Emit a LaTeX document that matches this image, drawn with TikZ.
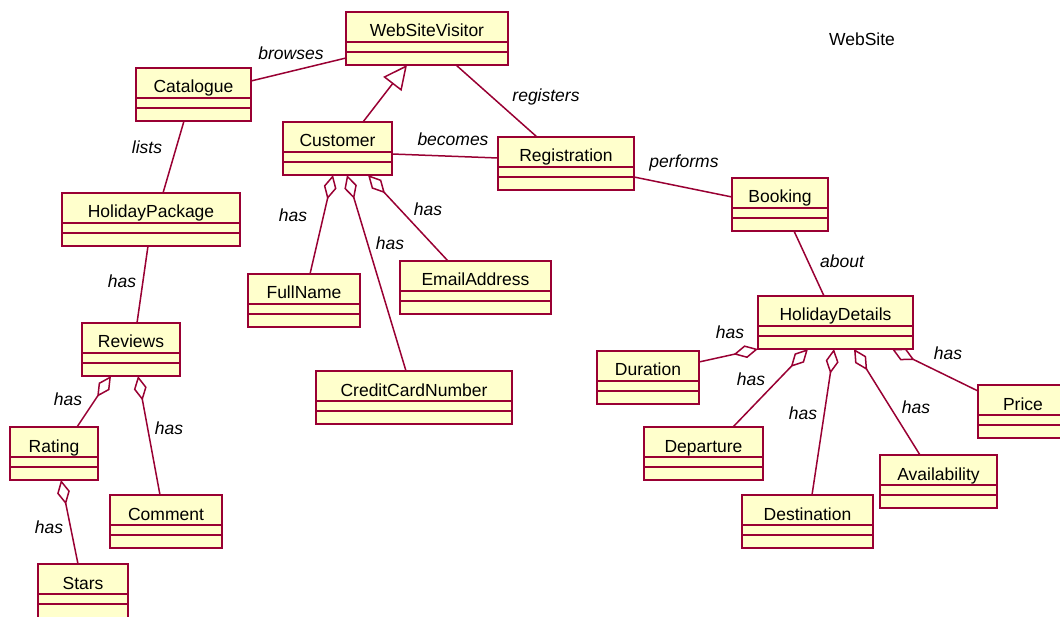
\documentclass[tikz,border=0pt]{standalone}
\usepackage{fontspec}
\setmainfont{Liberation Sans}
\usetikzlibrary{arrows.meta}

\definecolor{umlborder}{RGB}{153,0,51}
\definecolor{umlfill}{RGB}{255,255,204}

\tikzset{
  classbox/.style={draw=umlborder, fill=umlfill, line width=1.8pt,
    rectangle, inner sep=0pt, outer sep=0pt, minimum height=53pt, anchor=north west},
  classname/.style={inner sep=0pt, font=\fontsize{17.5}{20}\selectfont, anchor=base},
  classline/.style={draw=umlborder, line width=1.8pt},
  assoc/.style={draw=umlborder, line width=1.5pt},
  aggr/.style={assoc, {Diamond[open, fill=white, length=25pt, width=13pt]}-},
  generalization/.style={assoc, -{Triangle[open, fill=white, length=24pt, width=23pt]}},
  rolelabel/.style={inner sep=0pt, font=\fontsize{17.5}{20}\selectfont\itshape},
  titlelabel/.style={inner sep=0pt, font=\fontsize{17.5}{20}\selectfont},
}

% class box with name, attribute and operation compartments
\newcommand\umlclass[6][]{%
  \node[classbox, minimum width=#5pt, #1] (#2) at (#3,#4) {};
  \node[classname] (#2-name) at ([yshift=-25pt]#2.north) {#6};
  \draw[classline] ([yshift=-30pt]#2.north west) -- ([yshift=-30pt]#2.north east);
  \draw[classline] ([yshift=-40pt]#2.north west) -- ([yshift=-40pt]#2.north east);
}

\begin{document}
\begin{tikzpicture}[x=1pt, y=-1pt]
  \useasboundingbox (0,0) rectangle (1060,617);
  \fill[white] (0,0) rectangle (1060,617);

  \node[titlelabel] (title) at (862,39) {WebSite};

  % classes
  \umlclass{wsv}{346}{12}{162}{WebSiteVisitor}
  \umlclass{cat}{136}{68}{115}{Catalogue}
  \umlclass{cust}{283}{122}{109}{Customer}
  \umlclass{reg}{498}{137}{136}{Registration}
  \umlclass{book}{732}{178}{96}{Booking}
  \umlclass{hp}{62}{193}{178}{HolidayPackage}
  \umlclass{fn}{248}{274}{112}{FullName}
  \umlclass{email}{400}{261}{151}{EmailAddress}
  \umlclass{ccn}{316}{371}{196}{CreditCardNumber}
  \umlclass{rev}{82}{323}{98}{Reviews}
  \umlclass{hd}{758}{296}{155}{HolidayDetails}
  \umlclass{dur}{597}{351}{102}{Duration}
  \umlclass{price}{978}{385}{90}{Price}
  \umlclass{dep}{644}{427}{119}{Departure}
  \umlclass{avail}{880}{455}{117}{Availability}
  \umlclass{dest}{742}{495}{131}{Destination}
  \umlclass{rating}{10}{427}{88}{Rating}
  \umlclass{comment}{110}{495}{112}{Comment}
  \umlclass[minimum height=60pt]{stars}{38}{564}{90}{Stars}

  % associations
  \draw[assoc] ([yshift=-13pt]cat.north east) -- ([yshift=-46pt]wsv.north west);
  \draw[generalization] ([xshift=80pt]cust.north west) -- ([xshift=61pt]wsv.south west);
  \draw[assoc] ([xshift=110pt]wsv.south west) -- ([xshift=39pt]reg.north west);
  \draw[assoc] ([yshift=-32pt]cust.north east) -- ([yshift=-21pt]reg.north west);
  \draw[assoc] ([yshift=-40pt]reg.north east) -- ([yshift=-19pt]book.north west);
  \draw[assoc] ([xshift=62pt]book.south west) -- ([xshift=66pt]hd.north west);
  \draw[assoc] ([xshift=48pt]cat.south west) -- ([xshift=101pt]hp.north west);
  \draw[assoc] ([xshift=86pt]hp.south west) -- ([xshift=55pt]rev.north west);

  % aggregations
  \draw[aggr] ([xshift=29pt]rev.south west) -- ([xshift=67pt]rating.north west);
  \draw[aggr] ([xshift=56pt]rev.south west) -- ([xshift=50pt]comment.north west);
  \draw[aggr] ([xshift=51pt]rating.south west) -- ([xshift=40pt]stars.north west);
  \draw[aggr] ([xshift=50pt]cust.south west) -- ([xshift=62pt]fn.north west);
  \draw[aggr] ([xshift=64pt]cust.south west) -- ([xshift=90pt]ccn.north west);
  \draw[aggr] ([xshift=85pt]cust.south west) -- ([xshift=48pt]email.north west);
  \draw[aggr] (hd.south west) -- ([yshift=-11pt]dur.north east);
  \draw[aggr] ([xshift=50pt]hd.south west) -- ([xshift=89pt]dep.north west);
  \draw[aggr] ([xshift=76pt]hd.south west) -- ([xshift=70pt]dest.north west);
  \draw[aggr] ([xshift=96pt]hd.south west) -- ([xshift=40pt]avail.north west);
  \draw[aggr] ([xshift=134pt]hd.south west) -- ([yshift=-6pt]price.north west);

  % role labels
  \node[rolelabel] (l-browses)   at (291,53)  {browses};
  \node[rolelabel] (l-registers) at (546,97)  {registers};
  \node[rolelabel] (l-becomes)   at (453,139) {becomes};
  \node[rolelabel] (l-performs)  at (684,163) {performs};
  \node[rolelabel] (l-about)     at (842,261) {about};
  \node[rolelabel] (l-lists)     at (147,147) {lists};
  \node[rolelabel] (l-hp)        at (122,281) {has};
  \node[rolelabel] (l-fn)        at (293,215) {has};
  \node[rolelabel] (l-ccn)       at (390,243) {has};
  \node[rolelabel] (l-email)     at (428,209) {has};
  \node[rolelabel] (l-rating)    at (68,399)  {has};
  \node[rolelabel] (l-comment)   at (169,428) {has};
  \node[rolelabel] (l-stars)     at (49,527)  {has};
  \node[rolelabel] (l-dur)       at (730,332) {has};
  \node[rolelabel] (l-dep)       at (751,379) {has};
  \node[rolelabel] (l-dest)      at (803,413) {has};
  \node[rolelabel] (l-avail)     at (916,407) {has};
  \node[rolelabel] (l-price)     at (948,353) {has};
\end{tikzpicture}
\end{document}
